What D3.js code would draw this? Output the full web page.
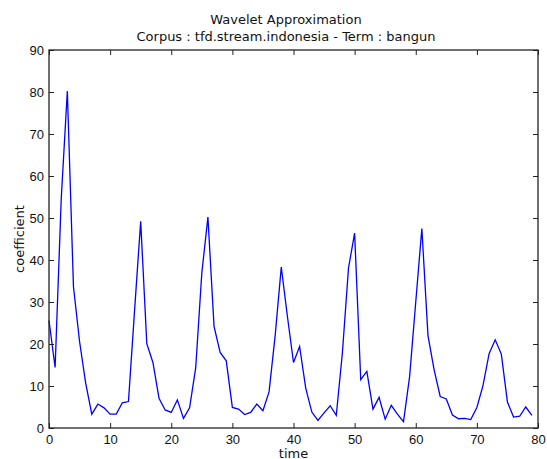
<!DOCTYPE html>
<html>
<head>
<meta charset="utf-8">
<script src="https://cdn.jsdelivr.net/npm/d3@7"></script>
<style>
  html, body { margin: 0; padding: 0; background: #fff; }
  svg { display: block; font-family: "DejaVu Sans", sans-serif; }
</style>
</head>
<body>
<svg id="chart" width="547" height="459"></svg>
<script>
// Wavelet approximation coefficients, one per time step
const times = d3.range(0, 80);
const coefficients = [
  25.6, 14.4, 54.5, 80.2, 33.7, 20.6, 10.7, 3.3, 5.7, 4.8,
  3.3, 3.3, 6.0, 6.3, 28.0, 49.2, 20.1, 15.6, 7.1, 4.3,
  3.7, 6.7, 2.3, 4.8, 14.3, 36.9, 50.2, 24.2, 18.0, 16.0,
  4.9, 4.5, 3.2, 3.7, 5.7, 4.1, 8.6, 22.0, 38.3, 26.6,
  15.6, 19.4, 9.5, 3.8, 1.8, 3.6, 5.3, 3.0, 17.9, 38.1,
  46.4, 11.5, 13.5, 4.5, 7.3, 2.1, 5.4, 3.3, 1.5, 12.3,
  30.0, 47.5, 22.0, 13.9, 7.5, 6.9, 3.1, 2.2, 2.3, 2.0,
  4.9, 10.1, 17.7, 21.0, 17.6, 6.2, 2.6, 2.8, 5.0, 3.0
];
const xTicks = [0, 10, 20, 30, 40, 50, 60, 70, 80];
const yTicks = [0, 10, 20, 30, 40, 50, 60, 70, 80, 90];
const titleLines = ["Wavelet Approximation", "Corpus : tfd.stream.indonesia - Term : bangun"];
const xLabel = "time";
const yLabel = "coefficient";

const svg = d3.select("#chart");
const plot = { left: 49, right: 538, top: 50, bottom: 428 };

const x = d3.scaleLinear().domain([0, 80]).range([plot.left, plot.right]);
const y = d3.scaleLinear().domain([0, 90]).range([plot.bottom, plot.top]);

// series line
svg.append("path")
  .datum(times.map((t, i) => [t, coefficients[i]]))
  .attr("fill", "none")
  .attr("stroke", "#0000ff")
  .attr("stroke-width", 1.3)
  .attr("stroke-linejoin", "miter")
  .attr("d", d3.line().x(d => x(d[0])).y(d => y(d[1])));

const tickLen = 5;
const fontSize = 13;

function styleAxis(g, showText) {
  g.select(".domain").remove();
  g.selectAll(".tick line").attr("stroke", "#222").attr("stroke-width", 1);
  g.selectAll(".tick text")
    .attr("fill", "#111")
    .style("font-size", fontSize + "px")
    .style("display", showText ? null : "none");
}

svg.append("g")
  .attr("transform", `translate(0,${plot.bottom})`)
  .call(d3.axisBottom(x).tickValues(xTicks).tickFormat(d3.format("d")).tickSize(-tickLen).tickPadding(7))
  .call(g => styleAxis(g, true));

svg.append("g")
  .attr("transform", `translate(0,${plot.top})`)
  .call(d3.axisTop(x).tickValues(xTicks).tickSize(-tickLen))
  .call(g => styleAxis(g, false));

svg.append("g")
  .attr("transform", `translate(${plot.left},0)`)
  .call(d3.axisLeft(y).tickValues(yTicks).tickFormat(d3.format("d")).tickSize(-tickLen).tickPadding(5))
  .call(g => styleAxis(g, true));

svg.append("g")
  .attr("transform", `translate(${plot.right},0)`)
  .call(d3.axisRight(y).tickValues(yTicks).tickSize(-tickLen))
  .call(g => styleAxis(g, false));

// frame
svg.append("rect")
  .attr("x", plot.left).attr("y", plot.top)
  .attr("width", plot.right - plot.left).attr("height", plot.bottom - plot.top)
  .attr("fill", "none")
  .attr("stroke", "#222")
  .attr("stroke-width", 1.3);

// titles
svg.selectAll("text.title")
  .data(titleLines)
  .enter().append("text")
  .attr("class", "title")
  .attr("x", 286)
  .attr("y", (d, i) => 24 + i * 17)
  .attr("text-anchor", "middle")
  .style("font-size", fontSize + "px")
  .attr("fill", "#111")
  .text(d => d);

svg.append("text")
  .attr("x", (plot.left + plot.right) / 2)
  .attr("y", 458)
  .attr("text-anchor", "middle")
  .style("font-size", fontSize + "px")
  .attr("fill", "#111")
  .text(xLabel);

svg.append("text")
  .attr("transform", `translate(24,${(plot.top + plot.bottom) / 2}) rotate(-90)`)
  .attr("text-anchor", "middle")
  .style("font-size", fontSize + "px")
  .attr("fill", "#111")
  .text(yLabel);
</script>
</body>
</html>
